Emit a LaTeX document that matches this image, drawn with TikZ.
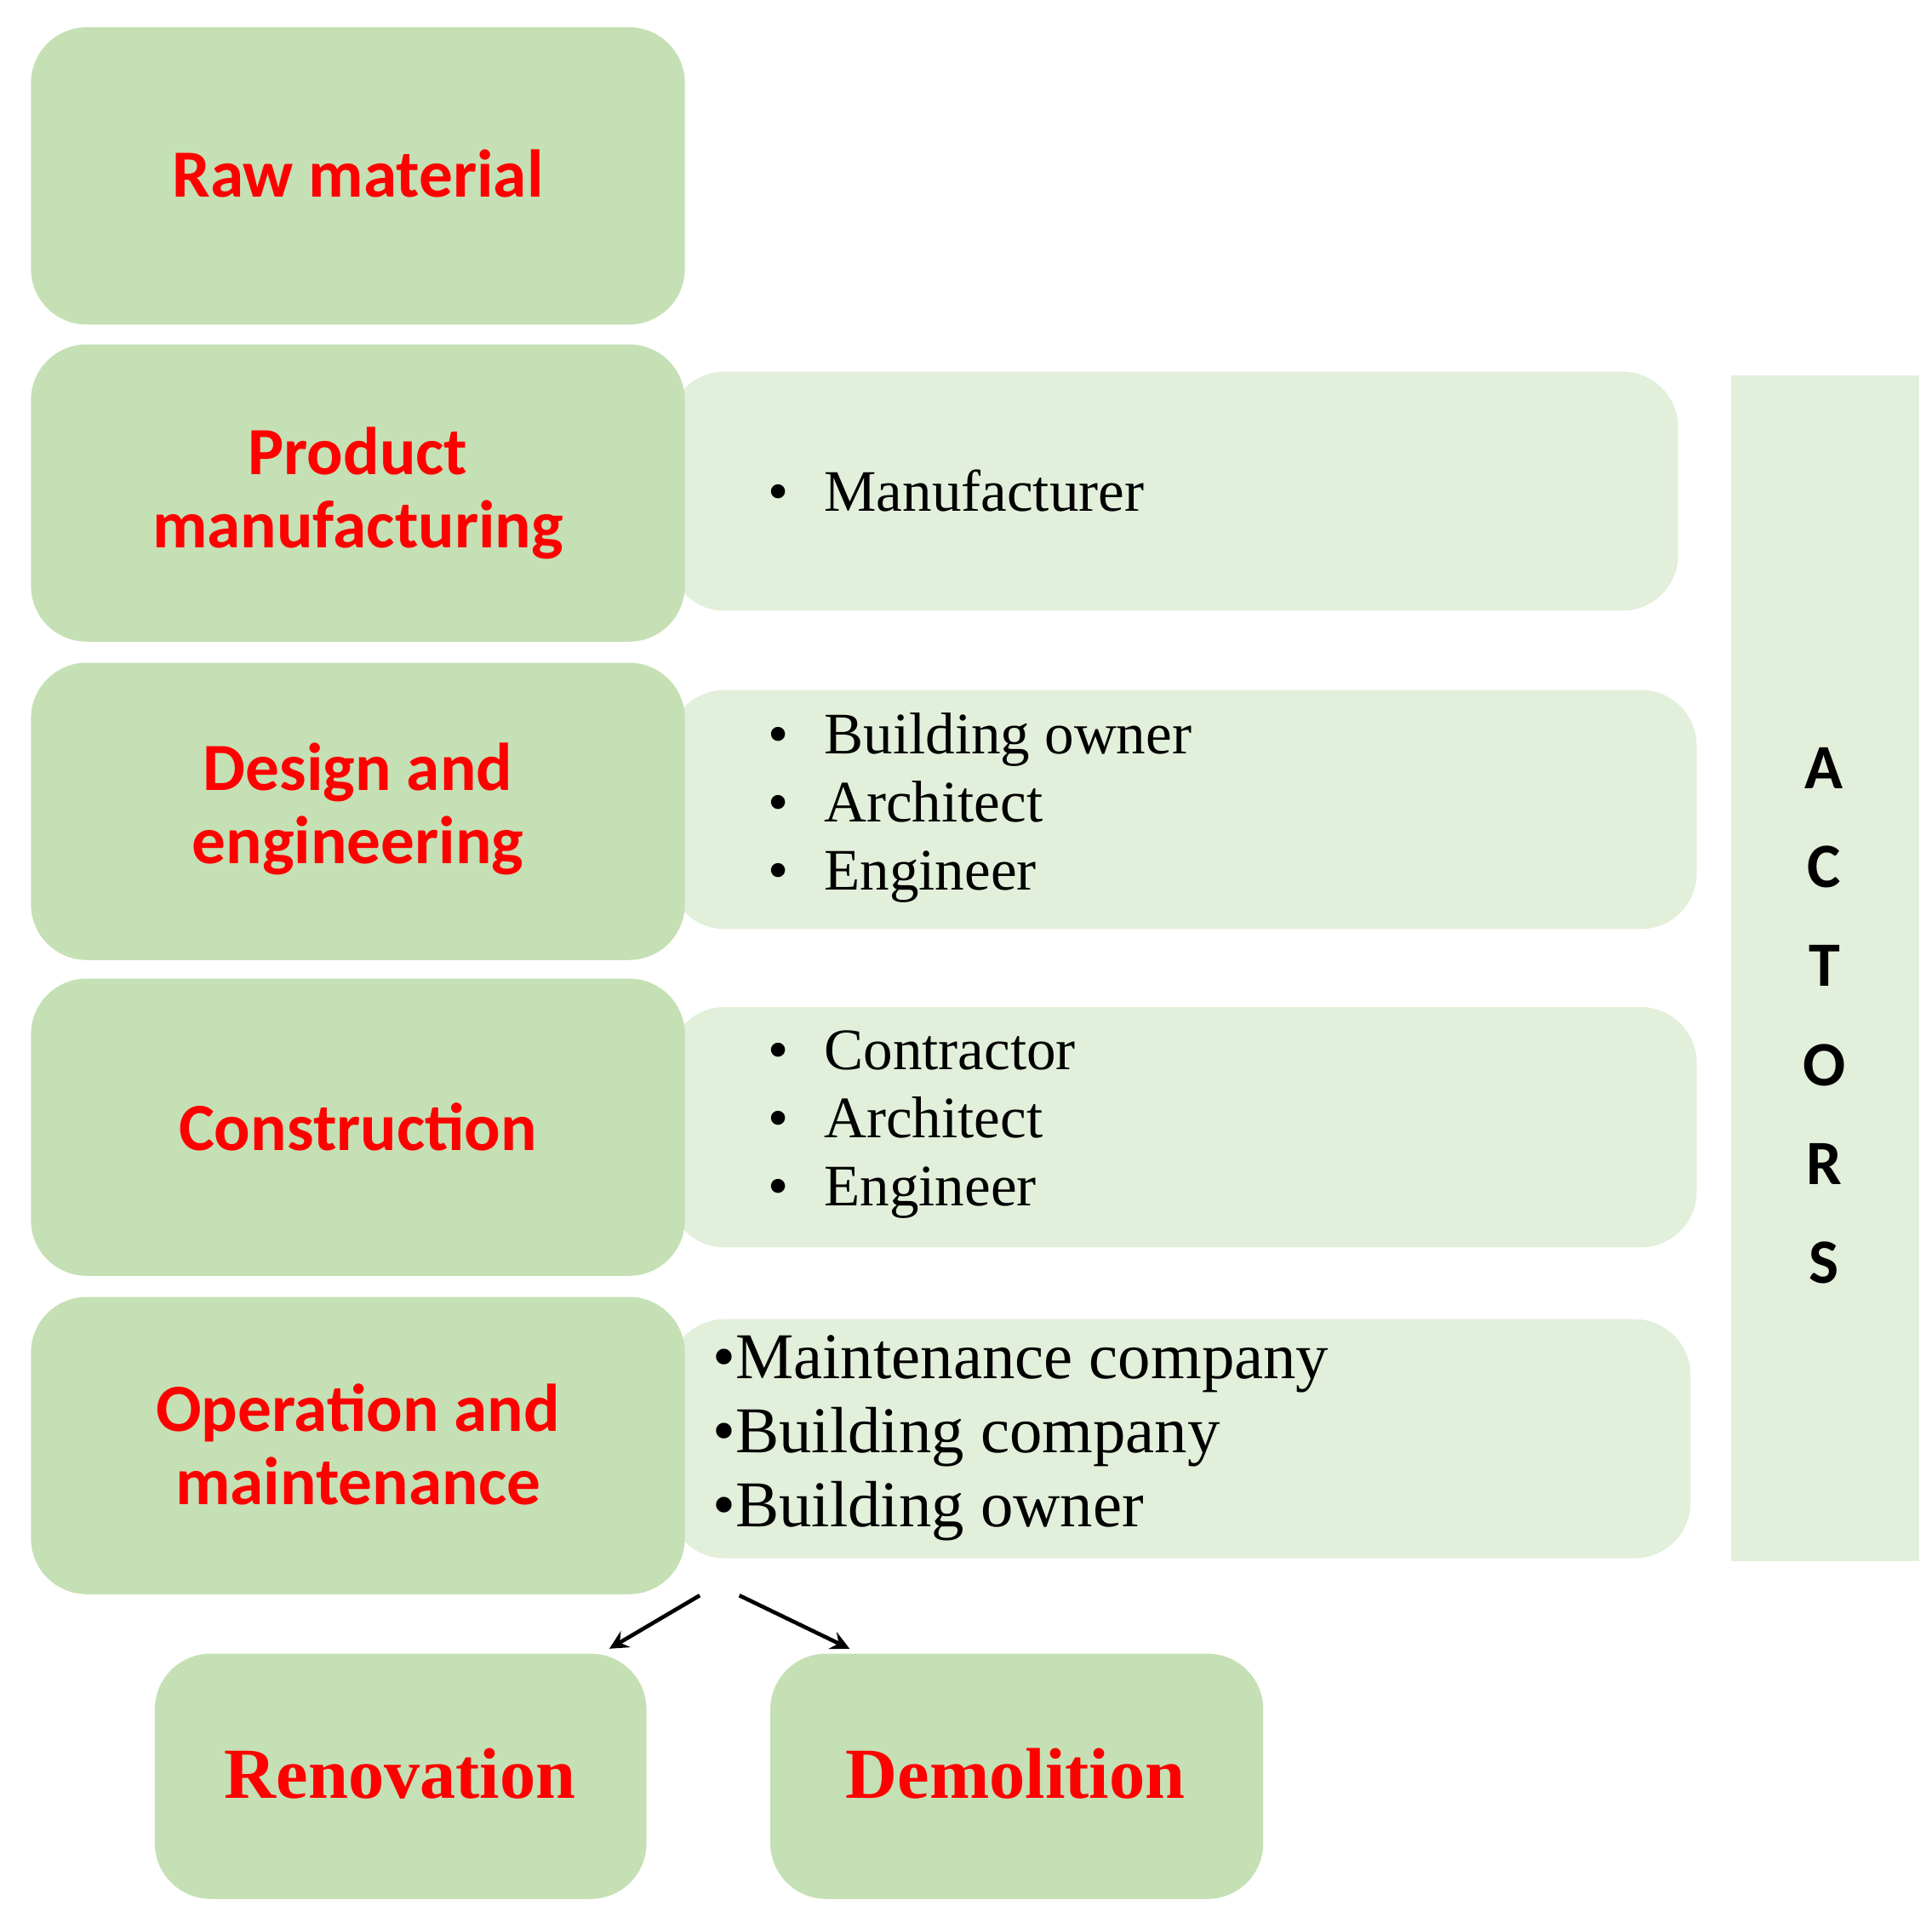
\documentclass[tikz,border=0pt]{standalone}
\usepackage{fontspec}
\setmainfont{Liberation Serif}
\newfontfamily\carfont{Carlito}
\definecolor{dg}{HTML}{C5E0B4}
\definecolor{lg}{HTML}{E2EFDA}
\definecolor{rd}{HTML}{FF0000}
\begin{document}
\begin{tikzpicture}[x=0.01cm,y=-0.01cm,
  stage/.style={fill=dg,rounded corners=0.45cm},
  act/.style={fill=lg,rounded corners=0.45cm},
  lab/.style={text=rd,font=\carfont\bfseries\fontsize{15.5}{16.8}\selectfont,align=center},
  lst/.style={anchor=west,font=\fontsize{13.5}{15.6}\selectfont,align=left},
  arr/.style={-stealth,line width=0.9pt}]
\useasboundingbox (0,0) rectangle (1560,1547);
% light actor boxes
\fill[act] (540,300) rectangle (1355,493);
\fill[act] (540,557) rectangle (1370,750);
\fill[act] (540,813) rectangle (1370,1007);
\fill[act] (540,1065) rectangle (1365,1258);
% stage boxes
\fill[stage] (25,22) rectangle (553,262);
\fill[stage] (25,278) rectangle (553,518);
\fill[stage] (25,535) rectangle (553,775);
\fill[stage] (25,790) rectangle (553,1030);
\fill[stage] (25,1047) rectangle (553,1287);
\fill[stage] (125,1335) rectangle (522,1533);
\fill[stage] (622,1335) rectangle (1020,1533);
\fill[lg] (1398,303) rectangle (1550,1260);
\node[lab] (raw) at (289,140) {Raw material};
\node[lab] (pm) at (289,398) {Product\\manufacturing};
\node[lab] (de) at (289,653) {Design and\\engineering};
\node[lab] (co) at (289,910) {Construction};
\node[lab] (om) at (289,1166) {Operation and\\maintenance};
\node[text=rd,font=\bfseries\fontsize{16.5}{20}\selectfont] (ren) at (323,1432) {Renovation};
\node[text=rd,font=\bfseries\fontsize{16.5}{20}\selectfont] (dem) at (820,1432) {Demolition};
\node[lst] at (608,396) {\textbullet\hspace{0.6em}Manufacturer};
\node[lst] at (608,652) {\textbullet\hspace{0.6em}Building owner\\\textbullet\hspace{0.6em}Architect\\\textbullet\hspace{0.6em}Engineer};
\node[lst] at (608,908) {\textbullet\hspace{0.6em}Contractor\\\textbullet\hspace{0.6em}Architect\\\textbullet\hspace{0.6em}Engineer};
\node[lst,font=\fontsize{15}{17}\selectfont] at (563,1161) {\textbullet Maintenance company\\\textbullet Building company\\\textbullet Building owner};
\node[font=\carfont\bfseries\fontsize{14.5}{22.7}\selectfont,align=center] (actors) at (1473,820) {A\\C\\T\\O\\R\\S};
\coordinate (a1) at (565,1288);
\coordinate (a2) at (597,1288);
\coordinate (b1) at (492,1331);
\coordinate (b2) at (686,1331);
\draw[arr] (a1) -- (b1);
\draw[arr] (a2) -- (b2);
\end{tikzpicture}
\end{document}
